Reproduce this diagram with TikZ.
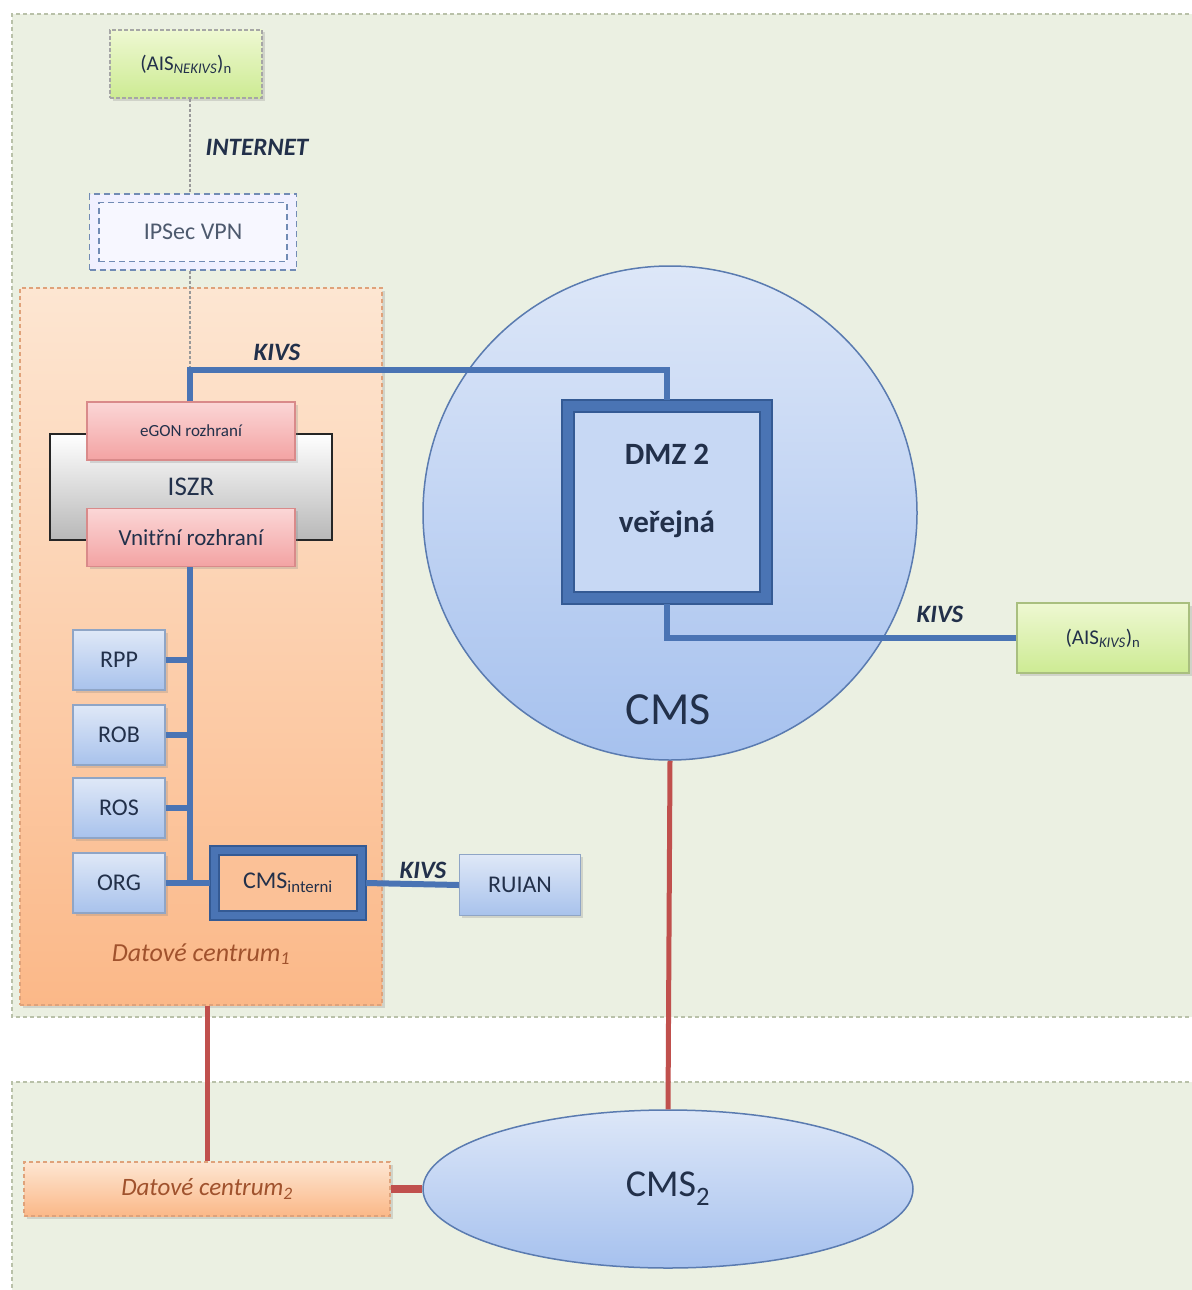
\documentclass[tikz,border=0pt]{standalone}
\usepackage{fontspec}
\setmainfont{Carlito}
\usetikzlibrary{shadows,shadings,positioning,shapes.geometric}
\definecolor{bggreen}{HTML}{EBF0E2}
\definecolor{bgborder}{HTML}{B9C1A9}
\definecolor{orangetop}{HTML}{FDE6D2}
\definecolor{orangebot}{HTML}{FBB888}
\definecolor{orangeborder}{HTML}{DFA27A}
\definecolor{blueline}{HTML}{4A74B4}
\definecolor{bluedark}{HTML}{345A94}
\definecolor{boxtop}{HTML}{DFE8F7}
\definecolor{boxbot}{HTML}{A8C2EC}
\definecolor{boxborder}{HTML}{8FA5C6}
\definecolor{circtop}{HTML}{DDE7F8}
\definecolor{circbot}{HTML}{A6C1EE}
\definecolor{circborder}{HTML}{5A7BB0}
\definecolor{pinktop}{HTML}{FBD6D6}
\definecolor{pinkbot}{HTML}{F3A3A3}
\definecolor{pinkborder}{HTML}{D98A8A}
\definecolor{greentop}{HTML}{EEF8D2}
\definecolor{greenbot}{HTML}{CDEB93}
\definecolor{greenborder}{HTML}{A9BF7F}
\definecolor{redline}{HTML}{C0504D}
\definecolor{textc}{HTML}{22304A}
\definecolor{dctext}{HTML}{A0522D}
\tikzset{
  x=1pt, y=-1pt,
  fs/.style={font=\fontsize{#1}{#1}\selectfont},
  fsb/.style={font=\fontsize{#1}{#1}\selectfont\bfseries},
  fsi/.style={font=\fontsize{#1}{#1}\selectfont\itshape},
  shad/.style={drop shadow={opacity=0.25, shadow xshift=2.5pt, shadow yshift=-2.5pt}},
  bluebox/.style={draw=boxborder, line width=1.2pt, top color=boxtop, bottom color=boxbot, shad, text=textc, fs=24, minimum width=92, minimum height=60},
  pinkbox/.style={draw=pinkborder, line width=1.2pt, top color=pinktop, bottom color=pinkbot, shad, text=textc, minimum width=208, minimum height=58},
  greenbox/.style={line width=1.2pt, top color=greentop, bottom color=greenbot, shad, text=textc, fs=21},
  conn/.style={draw=blueline, line width=6pt},
  redconn/.style={draw=redline, line width=5pt},
  netdash/.style={draw=gray!80, line width=1.2pt, dash pattern=on 3pt off 2pt},
  kivs/.style={text=textc, font=\fontsize{25}{25}\selectfont\bfseries\itshape},
}
\begin{document}
\begin{tikzpicture}
\useasboundingbox (0,0) rectangle (1191,1290);
% backgrounds
\fill[bggreen] (12,14) rectangle (1196,1017);
\draw[bgborder, line width=1.2pt, dash pattern=on 4pt off 3pt] (1196,14) -- (12,14) -- (12,1017) -- (1196,1017);
\fill[bggreen] (12,1082) rectangle (1196,1296);
\draw[bgborder, line width=1.2pt, dash pattern=on 4pt off 3pt] (1196,1082) -- (12,1082) -- (12,1296);

% Datove centrum 1 region
\node[draw=orangeborder, line width=1.2pt, dash pattern=on 4pt off 3pt, top color=orangetop, bottom color=orangebot, shad, minimum width=362, minimum height=717, inner sep=0] (dc1) at (201,646.5) {};
\node[text=dctext, fsi=26] (dc1lbl) at (201,954) {Datové centrum\textsubscript{1}};

% AIS NEKIVS
\node[greenbox, draw=gray!70, dash pattern=on 4pt off 2pt, minimum width=152, minimum height=68] (aisnek) at (186,64) {(AIS\textsubscript{\textit{NEKIVS}})\textsubscript{n}};

% IPSec VPN
\node[draw=bluedark!70, line width=1.5pt, dash pattern=on 6pt off 4pt, fill=white!94!blue, minimum width=207, minimum height=76] (ipsec) at (193,232) {};
\node[draw=bluedark!70, line width=1.5pt, dash pattern=on 6pt off 4pt, fill=white!97!blue, minimum width=188, minimum height=59, text=textc!80, fs=24] (ipsecin) at (193,232) {IPSec VPN};

% dashed internet line
\coordinate (k1) at (190,370);
\draw[netdash] (aisnek.south -| k1) -- (ipsec.north -| k1);
\draw[netdash] (ipsec.south -| k1) -- (k1);
\node[kivs] (inet) at (257,147) {INTERNET};

% CMS circle
\node[circle, draw=circborder, line width=1.5pt, top color=circtop, bottom color=circbot, minimum size=494, inner sep=0] (cms) at (670,513) {};
\node[text=textc, fs=46] (cmslbl) at (668,710) {CMS};

% DMZ
\node[draw=blueline, line width=12pt, fill=circtop!60!circbot, minimum width=198, minimum height=192, inner sep=0] (dmz) at (667,502) {};
\draw[bluedark, line width=1.2pt] (562,400) rectangle (772,604);
\draw[bluedark, line width=1.2pt] (574,412) rectangle (760,592);
\node[text=textc, fsb=31] (dmzt) at (667,454) {DMZ 2};
\node[text=textc, fsb=31] (dmzv) at (667,524) {veřejná};

% AIS KIVS
\node[greenbox, draw=greenborder, minimum width=172, minimum height=70] (aiskivs) at (1103,638) {(AIS\textsubscript{\textit{KIVS}})\textsubscript{n}};

% ISZR
\node[draw=black!85, line width=1.5pt, top color=white, bottom color=black!28, minimum width=282, minimum height=106, text=textc, fs=27] (iszr) at (191,487) {ISZR};
\node[pinkbox, fs=17] (egon) at (191,431) {eGON rozhraní};
\node[pinkbox, fs=23] (vnitrni) at (191,537.5) {Vnitřní rozhraní};

% registers
\node[bluebox] (rpp) at (119,660) {RPP};
\node[bluebox] (rob) at (119,735) {ROB};
\node[bluebox] (ros) at (119,808) {ROS};
\node[bluebox] (org) at (119,883) {ORG};
\node[bluebox, minimum width=121, minimum height=61] (ruian) at (520,885) {RUIAN};

% CMS interni
\node[draw=blueline, line width=9pt, fill=orangebot!80!orangetop, minimum width=147, minimum height=65, inner sep=0, text=textc, fs=24] (cmsint) at (288,883) {CMS\textsubscript{interni}};
\draw[bluedark, line width=1.2pt] (210,846) rectangle (366,920);
\draw[bluedark, line width=1.2pt] (219,855) rectangle (357,911);

% blue connectors
\draw[conn] (egon.north -| k1) -- (k1) -| (dmz.north);
\node[kivs] (kivs1) at (277,352) {KIVS};
\coordinate (k2) at (190,883);
\draw[conn] (vnitrni.south -| k2) -- (k2);
\draw[conn] (org.east) -- (cmsint.west);
\draw[conn] (rpp.east) -- (rpp.east -| k2);
\draw[conn] (rob.east) -- (rob.east -| k2);
\draw[conn] (ros.east) -- (ros.east -| k2);
\draw[conn] (cmsint.east) -- (ruian.west);
\node[kivs] (kivs2) at (423,870) {KIVS};
\draw[conn] (dmz.south) |- (aiskivs.west);
\node[kivs] (kivs3) at (940,614) {KIVS};

% bottom part
\node[draw=orangeborder, line width=1.2pt, dash pattern=on 4pt off 3pt, top color=orangetop, bottom color=orangebot, shad, minimum width=366, minimum height=54, text=dctext, fsi=25] (dc2) at (207,1189) {Datové centrum\textsubscript{2}};
\node[ellipse, draw=circborder, line width=1.5pt, top color=circtop, bottom color=circbot, minimum width=490, minimum height=158, inner sep=0, text=textc, fs=38] (cms2) at (668,1189) {CMS\textsubscript{2}};

% red connectors
\draw[redconn] (cms.south) -- (cms2.north);
\draw[redconn] (dc2.north |- dc1.south) -- (dc2.north);
\draw[redconn, line width=8pt] (dc2.east) -- (cms2.west);
\end{tikzpicture}
\end{document}
